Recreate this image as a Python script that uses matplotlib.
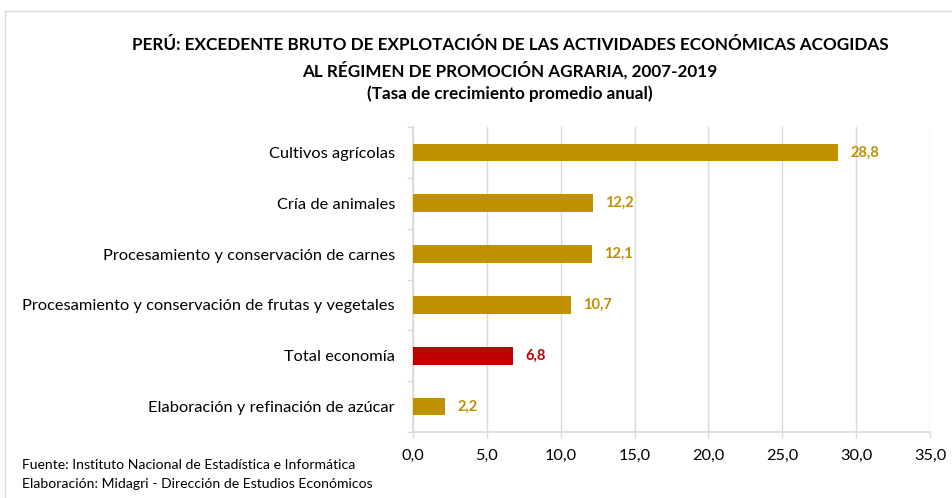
import matplotlib
matplotlib.use("Agg")
import matplotlib.pyplot as plt
from matplotlib.lines import Line2D

categories = [
    "Cultivos agrícolas",
    "Cría de animales",
    "Procesamiento y conservación de carnes",
    "Procesamiento y conservación de frutas y vegetales",
    "Total economía",
    "Elaboración y refinación de azúcar",
]
values = [28.8, 12.2, 12.1, 10.7, 6.8, 2.2]
highlight = "Total economía"
x_ticks = [0, 5, 10, 15, 20, 25, 30, 35]

GOLD = "#BF9000"
RED = "#C00000"
GRID = "#D9D9D9"

plt.rcParams["font.family"] = ["Lato", "DejaVu Sans"]

W, H = 953, 498
fig = plt.figure(figsize=(W / 100, H / 100), dpi=100)
ax = fig.add_axes([413 / W, 1 - 432 / H, (930 - 413) / W, (432 - 127) / H])

colors = [RED if c == highlight else GOLD for c in categories]
ypos = list(range(len(categories)))
ax.barh(ypos, values, height=0.35, color=colors, zorder=3)
for y, v, c in zip(ypos, values, colors):
    ax.text(v + 0.8, y, f"{v:.1f}".replace(".", ","), va="center", ha="left",
            color=c, fontsize=10.5, fontweight="bold")

ax.set_ylim(len(categories) - 0.5, -0.5)
ax.set_yticks([y - 0.5 for y in ypos] + [len(categories) - 0.5])
ax.set_yticklabels([])
ax.set_yticks(ypos, minor=True)
ax.set_yticklabels(categories, minor=True, fontsize=11.8)
ax.tick_params(axis="y", which="minor", length=0, pad=13)
ax.tick_params(axis="y", which="major", length=4, color=GRID, width=1)

ax.set_xlim(0, 35)
ax.set_xticks(x_ticks)
ax.set_xticklabels([f"{t:.1f}".replace(".", ",") for t in x_ticks], fontsize=11.8)
ax.tick_params(axis="x", length=4, color=GRID, width=1, pad=8)
ax.grid(axis="x", color=GRID, linewidth=1, zorder=0)

for s in ["top", "right"]:
    ax.spines[s].set_visible(False)
for s in ["left", "bottom"]:
    ax.spines[s].set_color(GRID)
    ax.spines[s].set_linewidth(1.2)

fig.text(510 / W, 1 - 45 / H,
         "PERÚ: EXCEDENTE BRUTO DE EXPLOTACIÓN DE LAS ACTIVIDADES ECONÓMICAS ACOGIDAS",
         ha="center", va="center", fontsize=12.3, fontweight="bold")
fig.text(510 / W, 1 - 70 / H, "AL RÉGIMEN DE PROMOCIÓN AGRARIA, 2007-2019",
         ha="center", va="center", fontsize=12.3, fontweight="bold")
fig.text(510 / W, 1 - 94 / H, "(Tasa de crecimiento promedio anual)",
         ha="center", va="center", fontsize=12.3, fontweight="bold")

fig.text(22 / W, 1 - 465 / H, "Fuente: Instituto Nacional de Estadística e Informática",
         ha="left", va="center", fontsize=10.1)
fig.text(22 / W, 1 - 484 / H, "Elaboración: Midagri - Dirección de Estudios Económicos",
         ha="left", va="center", fontsize=10.1)

# light frame around the chart area
fig.add_artist(Line2D([5 / W, 5 / W], [0, 1 - 11 / H], transform=fig.transFigure,
                      color=GRID, linewidth=1))
fig.add_artist(Line2D([5 / W, 1], [1 - 11 / H, 1 - 11 / H], transform=fig.transFigure,
                      color=GRID, linewidth=1))

fig.savefig("out.png", dpi=100)
